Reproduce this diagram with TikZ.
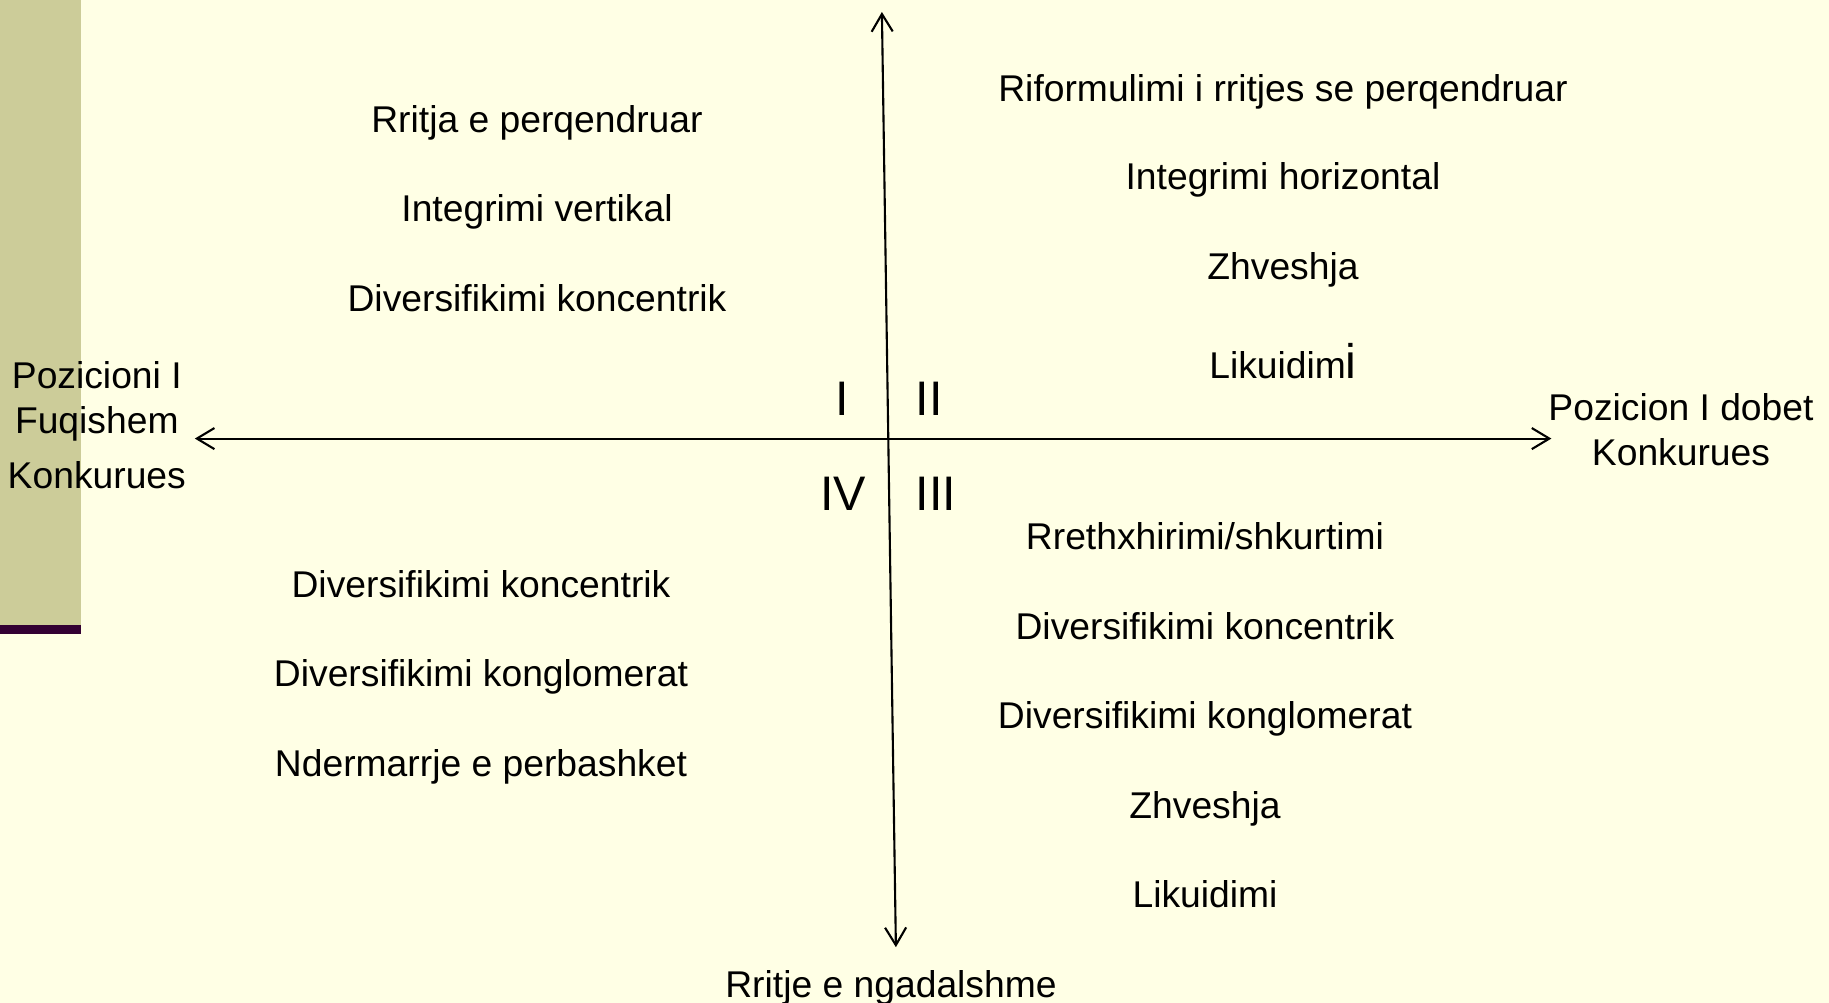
\documentclass[tikz,border=0pt]{standalone}
\usepackage{fontspec}
\setmainfont{Liberation Sans}
\usetikzlibrary{arrows.meta}

\definecolor{slidebg}{HTML}{FFFFE5}
\definecolor{stripcol}{HTML}{CCCC99}
\definecolor{barcol}{HTML}{330033}

\newcommand{\bigi}{{\fontsize{13.8}{14}\selectfont i}}

\begin{document}
\begin{tikzpicture}[every node/.style={font=\fontsize{10.6}{13}\selectfont, inner sep=0pt},
    lbl/.style={anchor=base, yshift=-0.4pt},
    numeral/.style={anchor=base, font=\fontsize{13.8}{16}\selectfont},
    axis/.style={line width=0.6pt, black, {Straight Barb[length=5pt,width=6pt]}-{Straight Barb[length=5pt,width=6pt]}}]
    \useasboundingbox (0,0) rectangle (18.29,10.03);
    \fill[slidebg] (0,0) rectangle (18.29,10.03);

    % Shirit anesor
    \fill[stripcol] (0,3.78) rectangle (0.81,10.03);
    \fill[barcol] (0,3.69) rectangle (0.81,3.78);

    % Boshtet
    \coordinate (vtop) at (8.819,9.91);
    \coordinate (vbot) at (8.959,0.558);
    \coordinate (hleft) at (1.948,5.644);
    \coordinate (hright) at (15.514,5.644);
    \draw[axis] (vbot) -- (vtop);
    \draw[axis] (hleft) -- (hright);

    % Kuadrantet
    \node[numeral] (qI) at (8.42,5.87) {I};
    \node[numeral] (qII) at (9.29,5.87) {II};
    \node[numeral] (qIV) at (8.43,4.92) {IV};
    \node[numeral] (qIII) at (9.36,4.92) {III};

    % Etiketat e boshteve
    \node[lbl] (left1) at (0.968,6.161) {Pozicioni I};
    \node[lbl] (left2) at (0.968,5.705) {Fuqishem};
    \node[lbl] (left3) at (0.968,5.157) {Konkurues};
    \node[lbl] (right1) at (16.81,5.835) {Pozicion I dobet};
    \node[lbl] (right2) at (16.81,5.391) {Konkurues};
    \node[lbl] (bottom) at (8.91,0.071) {Rritje e ngadalshme};

    % Kuadranti I
    \node[lbl] (tl1) at (5.37,8.715) {Rritja e perqendruar};
    \node[lbl] (tl2) at (5.37,7.829) {Integrimi vertikal};
    \node[lbl] (tl3) at (5.37,6.93) {Diversifikimi koncentrik};

    % Kuadranti II
    \node[lbl] (tr1) at (12.83,9.03) {Riformulimi i rritjes se perqendruar};
    \node[lbl] (tr2) at (12.83,8.145) {Integrimi horizontal};
    \node[lbl] (tr3) at (12.83,7.245) {Zhveshja};
    \node[lbl] (tr4) at (12.83,6.255) {Likuidim\bigi};

    % Kuadranti IV
    \node[lbl] (bl1) at (4.81,4.072) {Diversifikimi koncentrik};
    \node[lbl] (bl2) at (4.81,3.175) {Diversifikimi konglomerat};
    \node[lbl] (bl3) at (4.81,2.275) {Ndermarrje e perbashket};

    % Kuadranti III
    \node[lbl] (br1) at (12.05,4.551) {Rrethxhirimi/shkurtimi};
    \node[lbl] (br2) at (12.05,3.653) {Diversifikimi koncentrik};
    \node[lbl] (br3) at (12.05,2.755) {Diversifikimi konglomerat};
    \node[lbl] (br4) at (12.05,1.855) {Zhveshja};
    \node[lbl] (br5) at (12.05,0.97) {Likuidimi};
\end{tikzpicture}
\end{document}
